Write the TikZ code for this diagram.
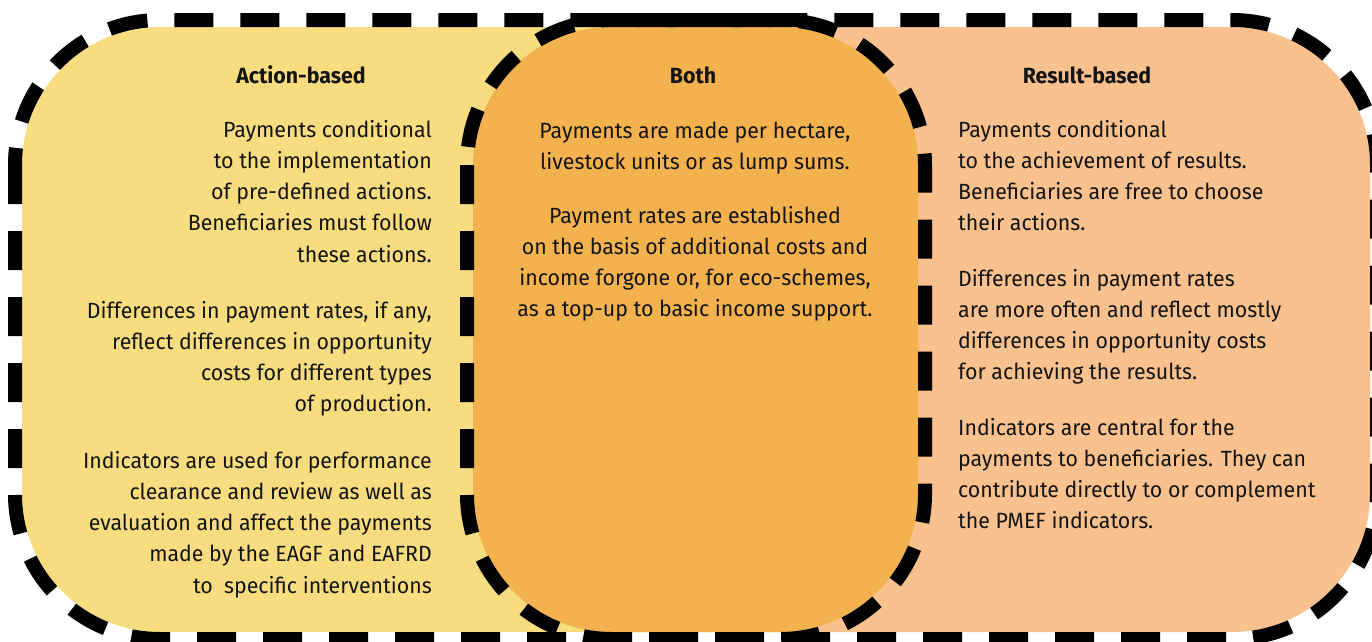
\documentclass[tikz,border=0pt]{standalone}
\usepackage{fontspec}
\setmainfont{Fira Sans}[FakeStretch=0.97]
\usetikzlibrary{positioning}
\definecolor{yel}{HTML}{F8DD80}
\definecolor{pea}{HTML}{F8C18E}
\definecolor{ora}{HTML}{F4B24F}
\definecolor{ink}{HTML}{141414}
\tikzset{
  dashline/.style={draw=black, line width=14pt, dash pattern=on 39pt off 27pt},
  para/.style={inner sep=0pt, text=ink, font=\fontsize{22}{31.3}\selectfont},
  head/.style={inner sep=0pt, text=ink, font=\fontsize{22}{31.3}\selectfont\bfseries, anchor=base},
}
\newcommand{\pl}[1]{\parbox[t]{430pt}{\raggedleft #1}}
\newcommand{\pc}[1]{\parbox[t]{430pt}{\centering #1}}
\newcommand{\pr}[1]{\parbox[t]{430pt}{\raggedright #1}}
\begin{document}
\begin{tikzpicture}[x=1pt,y=-1pt]
\useasboundingbox (0,0) rectangle (1372,641);
\clip (0,0) rectangle (1372,641);
% background fills
\begin{scope}
  \clip (0,0) rectangle (696,641);
  \fill[yel, rounded corners=138pt] (22,27) rectangle (1370,632);
\end{scope}
\begin{scope}
  \clip (696,0) rectangle (1372,641);
  \fill[pea, rounded corners=138pt] (22,27) rectangle (1370,632);
\end{scope}
\fill[ora, rounded corners=138pt] (473,27) rectangle (918,632);
% dashed outlines
\draw[dashline, rounded corners=145pt] (15,20) rectangle (1377,639);
\draw[dashline, rounded corners=145pt] (467,20) rectangle (925,639);
% headings
\node[head] (h1) at (301,83) {Action-based};
\node[head] (h2) at (693,83) {Both};
\node[head] (h3) at (1087,83) {Result-based};
% left column
\node[para, anchor=base east] (l1) at (432,137) {\pl{Payments conditional\\to the implementation\\of pre-defined actions.\\Beneficiaries must follow\\these actions.}};
\node[para, anchor=base east] (l2) at (432,318) {\pl{Differences in payment rates, if any,\\reflect differences in opportunity\\costs for different types\\of production.}};
\node[para, anchor=base east] (l3) at (432,468) {\pl{Indicators are used for performance\\clearance and review as well as\\evaluation and affect the payments\\made by the EAGF and EAFRD\\to\ \ specific interventions}};
% middle column
\node[para, anchor=base] (m1) at (695,138) {\pc{Payments are made per hectare,\\livestock units or as lump sums.}};
\node[para, anchor=base] (m2) at (695,223) {\pc{Payment rates are established\\on the basis of additional costs and\\income forgone or, for eco-schemes,\\as a top-up to basic income support.}};
% right column
\node[para, anchor=base west] (r1) at (958,137) {\pr{Payments conditional\\to the achievement of results.\\Beneficiaries are free to choose\\their actions.}};
\node[para, anchor=base west] (r2) at (958,286) {\pr{Differences in payment rates\\are more often and reflect mostly\\differences in opportunity costs\\for achieving the results.}};
\node[para, anchor=base west] (r3) at (958,435) {\pr{Indicators are central for the\\payments to beneficiaries. They can\\contribute directly to or complement\\the PMEF indicators.}};
\end{tikzpicture}
\end{document}
